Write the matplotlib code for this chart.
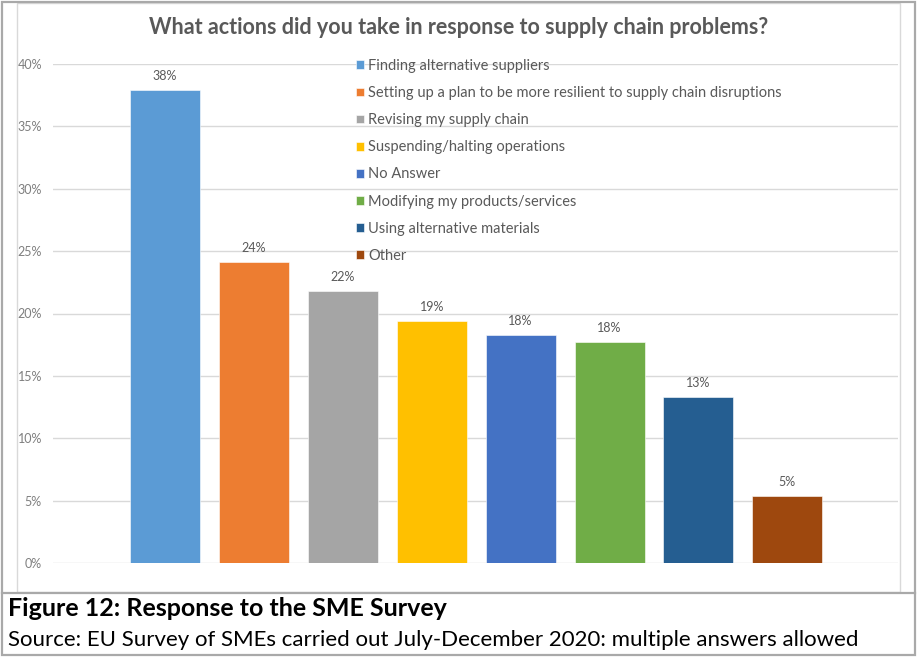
import matplotlib
matplotlib.use("Agg")
import matplotlib.pyplot as plt
from matplotlib.patches import Rectangle
from matplotlib.lines import Line2D

categories = [
    "Finding alternative suppliers",
    "Setting up a plan to be more resilient to supply chain disruptions",
    "Revising my supply chain",
    "Suspending/halting operations",
    "No Answer",
    "Modifying my products/services",
    "Using alternative materials",
    "Other",
]
values = [37.9, 24.1, 21.8, 19.4, 18.3, 17.7, 13.3, 5.4]
labels = ["38%", "24%", "22%", "19%", "18%", "18%", "13%", "5%"]
colors = ["#5B9BD5", "#ED7D31", "#A5A5A5", "#FFC000", "#4472C4", "#70AD47", "#255E91", "#9E480E"]
yticks = [0, 5, 10, 15, 20, 25, 30, 35, 40]
ytick_labels = ["0%", "5%", "10%", "15%", "20%", "25%", "30%", "35%", "40%"]

title = "What actions did you take in response to supply chain problems?"
caption_bold = "Figure 12: Response to the SME Survey"
caption_src = "Source: EU Survey of SMEs carried out July-December 2020: multiple answers allowed"

plt.rcParams['font.family'] = ['Lato', 'DejaVu Sans']

W, H = 917, 657
fig = plt.figure(figsize=(W / 100, H / 100), dpi=100)

def fx(px):
    return px / W

def fy(py):
    return 1 - py / H

# Frames
fig.add_artist(Rectangle((fx(17), fy(592)), fx(900) - fx(17), fy(3) - fy(592),
                         transform=fig.transFigure, fill=False, edgecolor="#d9d9d9", lw=1))
fig.add_artist(Rectangle((fx(2), fy(655)), fx(915) - fx(2), fy(2) - fy(655),
                         transform=fig.transFigure, fill=False, edgecolor="#a9a9a9", lw=1.6))
fig.add_artist(Line2D([fx(2), fx(915)], [fy(593), fy(593)], transform=fig.transFigure,
                      color="#a9a9a9", lw=1.6))

ax = fig.add_axes([fx(53), fy(563), fx(898) - fx(53), fy(64) - fy(563)])
x = list(range(len(categories)))
bars = ax.bar(x, values, width=0.787, color=colors, label=categories, zorder=3,
              edgecolor="white", linewidth=0.4)
ax.set_xlim(-1.26, 8.245)
ax.set_ylim(0, 40)
ax.set_yticks(yticks)
ax.set_yticklabels(ytick_labels)
ax.tick_params(axis='y', length=0, pad=8, labelsize=9, labelcolor="#7f7f7f")
ax.set_xticks([])
for s in ax.spines.values():
    s.set_visible(False)
ax.grid(axis='y', color="#d9d9d9", lw=1, zorder=0)
ax.set_axisbelow(True)

for xi, v, lab in zip(x, values, labels):
    ax.annotate(lab, (xi, v), xytext=(0, 10), textcoords="offset points",
                ha="center", va="center", fontsize=9, color="#595959")

leg = ax.legend(handles=list(bars), labels=categories, loc="upper left",
                bbox_to_anchor=(fx(356), fy(59)), bbox_transform=fig.transFigure,
                frameon=False, fontsize=10.5, labelcolor="#595959",
                handlelength=0.55, handleheight=0.55, handletextpad=0.3,
                labelspacing=0.9, borderaxespad=0, borderpad=0)

fig.text(0.5, fy(28), title, ha="center", va="center", fontsize=15.5,
         fontweight="bold", color="#595959")

fig.text(fx(8), fy(609), caption_bold, ha="left", va="center", fontsize=18,
         fontweight="bold", color="black")
fig.text(fx(8), fy(640), caption_src, ha="left", va="center", fontsize=16,
         color="black")

fig.savefig("out.png", dpi=100)
